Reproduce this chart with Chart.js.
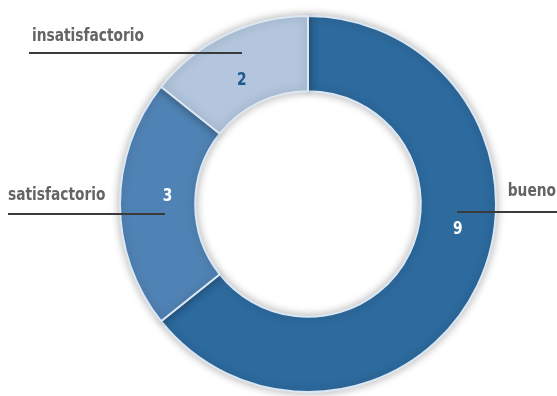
<!DOCTYPE html>
<html lang="es">
<head>
    <meta charset="UTF-8" />
    <title>Valoración</title>
    <script src="https://cdn.jsdelivr.net/npm/chart.js@4.4.1/dist/chart.umd.min.js"></script>
    <style>
        html, body { margin: 0; padding: 0; background: #fff; }
        #wrap { width: 557px; height: 396px; position: relative; }
    </style>
</head>
<body>
    <div id="wrap"><canvas id="chart" width="557" height="396"></canvas></div>

    <script>
        // datos
        const categorias = ['bueno', 'satisfactorio', 'insatisfactorio'];
        const valores = [9, 3, 2];
        const colores = ['#2d6a9e', '#5083b5', '#b3c6dd'];
        const coloresValor = ['#ffffff', '#ffffff', '#1d5a8c'];

        // donde va cada etiqueta: nombre (x, y, alineacion), raya (x1, x2, y), y posicion del numero dentro del sector
        const etiquetas = [
            { nx: 556, ny: 192, al: 'right', lx1: 457, lx2: 557, ly: 212, frac: 0.43, rad: 0.52 },
            { nx: 8,   ny: 196, al: 'left',  lx1: 8,   lx2: 165, ly: 214, frac: 0.54, rad: 0.37 },
            { nx: 32,  ny: 37,  al: 'left',  lx1: 29,  lx2: 242, ly: 53,  frac: 0.45, rad: 0.36 }
        ];
        const fuente = 'bold 17px "DejaVu Sans Condensed", sans-serif';
        const estrechar = 0.9; // la letra original es mas estrecha

        const sombra = {
            id: 'sombra',
            beforeDatasetsDraw(chart) {
                const ctx = chart.ctx;
                ctx.save();
                ctx.shadowColor = 'rgba(0,0,0,0.3)';
                ctx.shadowBlur = 10;
            },
            afterDatasetsDraw(chart) {
                chart.ctx.restore();
            }
        };

        function texto(ctx, t, x, y, align) {
            ctx.save();
            ctx.translate(x, y);
            ctx.scale(estrechar, 1);
            ctx.textAlign = align;
            ctx.textBaseline = 'middle';
            ctx.fillText(t, 0, 0);
            ctx.restore();
        }

        const rotulos = {
            id: 'rotulos',
            afterDraw(chart) {
                const ctx = chart.ctx;
                const arcos = chart.getDatasetMeta(0).data;
                ctx.save();
                ctx.font = fuente;
                arcos.forEach((arc, i) => {
                    const e = etiquetas[i];
                    // raya
                    ctx.strokeStyle = '#3a3a3a';
                    ctx.lineWidth = 2;
                    ctx.beginPath();
                    ctx.moveTo(e.lx1, e.ly);
                    ctx.lineTo(e.lx2, e.ly);
                    ctx.stroke();
                    // nombre
                    ctx.fillStyle = '#646464';
                    texto(ctx, categorias[i], e.nx, e.ny, e.al);
                    // numero dentro del sector
                    const a = arc.startAngle + (arc.endAngle - arc.startAngle) * e.frac;
                    const r = arc.innerRadius + (arc.outerRadius - arc.innerRadius) * e.rad;
                    ctx.fillStyle = coloresValor[i];
                    texto(ctx, String(valores[i]), arc.x + r * Math.cos(a), arc.y + r * Math.sin(a), 'center');
                });
                ctx.restore();
            }
        };

        new Chart(document.getElementById('chart'), {
            type: 'doughnut',
            data: {
                labels: categorias,
                datasets: [{
                    data: valores,
                    backgroundColor: colores,
                    borderColor: '#dbe8f4',
                    borderWidth: 2
                }]
            },
            options: {
                responsive: false,
                animation: false,
                cutout: '60%',
                layout: { padding: { top: 15, bottom: 3, left: 119, right: 60 } },
                plugins: {
                    legend: { display: false },
                    tooltip: { enabled: false }
                }
            },
            plugins: [sombra, rotulos]
        });
    </script>
</body>
</html>
